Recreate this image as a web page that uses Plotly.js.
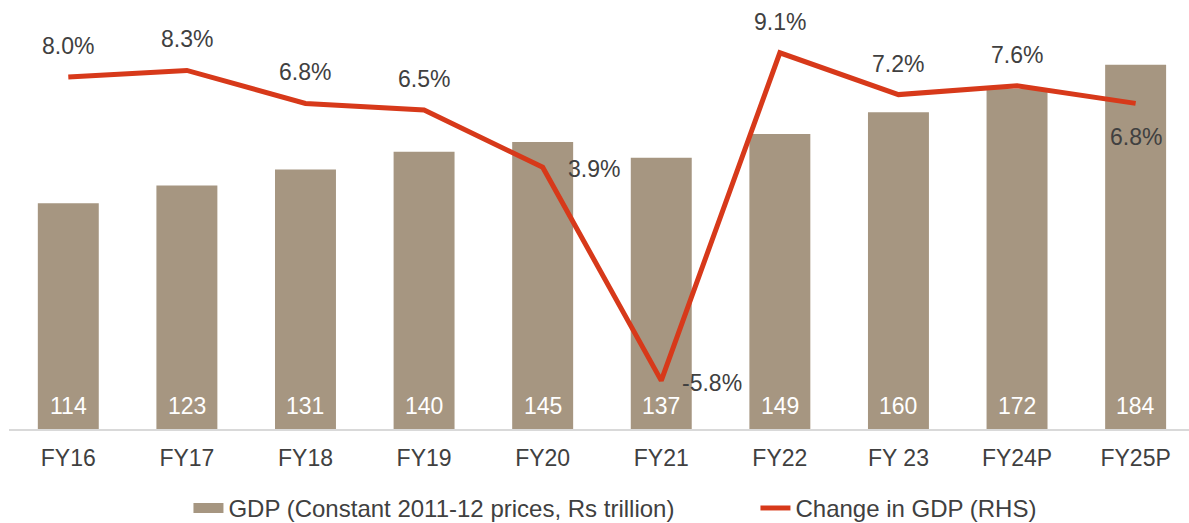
<!DOCTYPE html>
<html>
<head>
<meta charset="utf-8">
<script src="https://cdn.plot.ly/plotly-3.0.1.min.js"></script>
<style>html,body{margin:0;padding:0;background:#fff;}#chart{width:1189px;height:523px;}</style>
</head>
<body>
<div id="chart"></div>
<script>
const categories = ["FY16","FY17","FY18","FY19","FY20","FY21","FY22","FY 23","FY24P","FY25P"];
const gdpValues = [114,123,131,140,145,137,149,160,172,184];
const growthValues = [8.0,8.3,6.8,6.5,3.9,-5.8,9.1,7.2,7.6,6.8];
const seriesNames = ["GDP (Constant 2011-12 prices, Rs trillion)", "Change in GDP (RHS)"];
// label placement: "above", "right", "below"
const growthLabelSide = ["above","above","above","above","right","right","above","above","above","below"];

const fontFamily = "Liberation Sans, Arial, sans-serif";
const barColor = "#a69681";
const lineColor = "#d7391a";
const textColor = "#404040";

const barTrace = {
  type: "bar",
  name: seriesNames[0],
  x: categories,
  y: gdpValues,
  marker: {color: barColor},
  hoverinfo: "skip",
  showlegend: false
};
const lineTrace = {
  type: "scatter",
  mode: "lines",
  name: seriesNames[1],
  x: categories,
  y: growthValues,
  yaxis: "y2",
  line: {color: lineColor, width: 5},
  hoverinfo: "skip",
  showlegend: false
};
// legend-only entries (no data drawn)
const legendBar = {type: "scatter", mode: "lines", name: seriesNames[0], x: [null], y: [null], line: {color: barColor, width: 15}, showlegend: true, hoverinfo: "skip"};
const legendLine = {type: "scatter", mode: "lines", name: seriesNames[1], x: [null], y: [null], yaxis: "y2", line: {color: lineColor, width: 5}, showlegend: true, hoverinfo: "skip"};

const sideShift = {above: {x: 0, y: 31}, right: {x: 51, y: -2}, below: {x: 0, y: -34}};
const lineLabels = growthValues.map((v, i) => ({
  x: categories[i], y: v, xref: "x", yref: "y2",
  text: v.toFixed(1) + "%", showarrow: false,
  xshift: sideShift[growthLabelSide[i]].x, yshift: sideShift[growthLabelSide[i]].y,
  font: {family: fontFamily, size: 23, color: textColor}
}));
const barLabels = gdpValues.map((v, i) => ({
  x: categories[i], y: 0, xref: "x", yref: "y",
  text: String(v), showarrow: false, yanchor: "middle", yshift: 23,
  font: {family: fontFamily, size: 23, color: "#ffffff"}
}));

const layout = {
  width: 1189, height: 523,
  margin: {l: 9, r: 0, t: 33, b: 94},
  paper_bgcolor: "#ffffff", plot_bgcolor: "#ffffff",
  font: {family: fontFamily, size: 23, color: textColor},
  bargap: 0.486,
  showlegend: true,
  legend: {orientation: "h", x: 0.1585, xanchor: "left", xref: "container", y: 0.028, yref: "container", yanchor: "middle", font: {size: 24, color: textColor}, entrywidth: 522, entrywidthmode: "pixels", tracegroupgap: 0},
  annotations: barLabels.concat(lineLabels),
  xaxis: {type: "category", range: [-0.5, 9.45], showline: true, linecolor: "#d9d9d9", linewidth: 1.5, ticks: "outside", ticklen: 8, tickcolor: "rgba(0,0,0,0)", showgrid: false, zeroline: false, tickfont: {size: 23, color: textColor}, fixedrange: true},
  yaxis: {range: [0, 200], showticklabels: false, showgrid: false, zeroline: false, showline: false, ticks: ""},
  yaxis2: {range: [-8, 10], overlaying: "y", side: "right", showticklabels: false, showgrid: false, zeroline: false, showline: false, ticks: ""}
};
Plotly.newPlot("chart", [barTrace, lineTrace, legendBar, legendLine], layout, {displayModeBar: false, staticPlot: true});
</script>
</body>
</html>
